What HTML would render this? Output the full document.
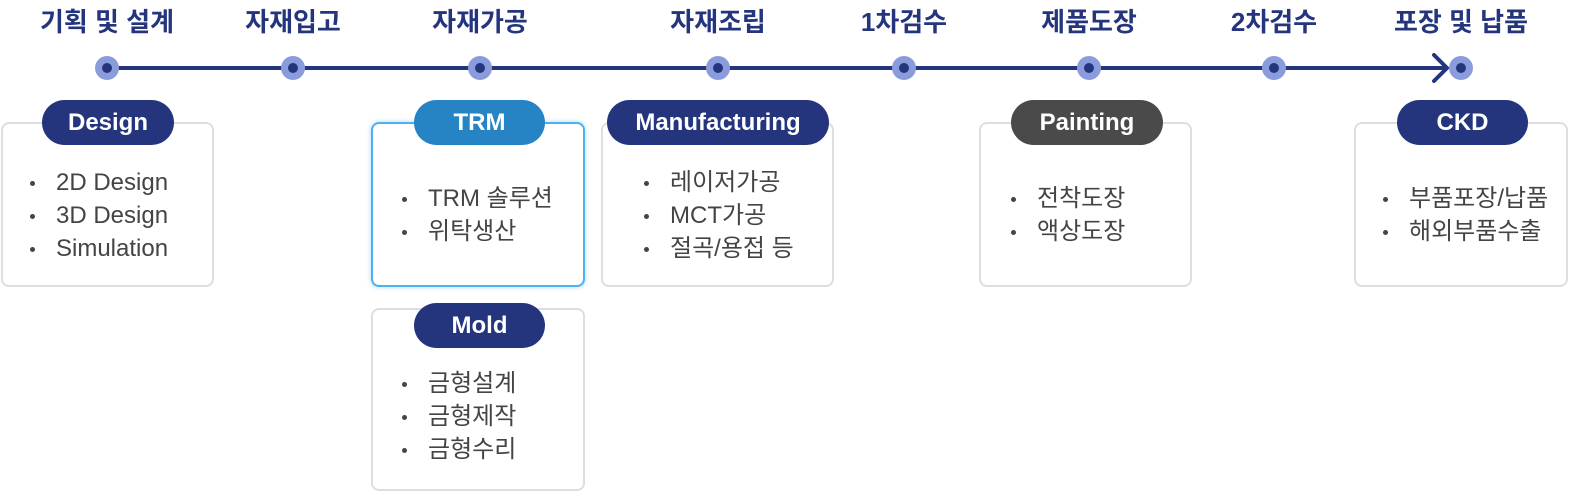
<!DOCTYPE html><html><head><meta charset="utf-8"><style>
*{margin:0;padding:0;box-sizing:border-box}
body{width:1570px;height:492px;background:#fff;position:relative;overflow:hidden;font-family:"Liberation Sans","Noto Sans CJK KR",sans-serif}
.t{position:absolute;top:2px;width:220px;margin-left:-110px;text-align:center;font-weight:bold;font-size:26px;color:#24357e;font-family:"Liberation Sans","Noto Sans CJK KR",sans-serif}
.d{position:absolute;top:56px;width:24px;height:24px;margin-left:-12px;border-radius:50%;background:#8b9cdc}
.d:after{content:"";position:absolute;left:7px;top:7px;width:10px;height:10px;border-radius:50%;background:#24357e}
.b{position:absolute;border:2px solid #dedede;border-radius:8px;background:#fff}
.p{position:absolute;height:45px;border-radius:23px;background:#24357e;color:#fff;font-weight:bold;font-size:24px;text-align:center;line-height:45px}
ul{position:absolute;list-style:none;font-size:24px;color:#444;line-height:33px;font-family:"Liberation Sans","Noto Sans CJK KR",sans-serif}
li{position:relative;padding-left:26px;white-space:nowrap}
li:before{content:"";position:absolute;left:0;top:15px;width:5px;height:5px;border-radius:50%;background:#444}
</style></head><body>
<div style="position:absolute;left:107px;top:66px;width:1340px;height:4px;background:#24357e"></div>
<svg style="position:absolute;left:1424px;top:50px" width="30" height="36"><polyline points="10,5 23,18 10,31" fill="none" stroke="#24357e" stroke-width="4" stroke-linecap="round"/></svg>
<div class="t" style="left:107px">기획 및 설계</div><div class="t" style="left:293px">자재입고</div><div class="t" style="left:480px">자재가공</div><div class="t" style="left:718px">자재조립</div><div class="t" style="left:904px">1차검수</div><div class="t" style="left:1089px">제품도장</div><div class="t" style="left:1274px">2차검수</div><div class="t" style="left:1461px">포장 및 납품</div>
<div class="d" style="left:107px"></div><div class="d" style="left:293px"></div><div class="d" style="left:480px"></div><div class="d" style="left:718px"></div><div class="d" style="left:904px"></div><div class="d" style="left:1089px"></div><div class="d" style="left:1274px"></div><div class="d" style="left:1461px"></div>

<div class="b" style="left:1px;top:122px;width:213px;height:165px"></div>
<div class="p" style="left:42px;top:100px;width:132px">Design</div>
<ul style="left:30px;top:166px"><li>2D Design</li><li>3D Design</li><li>Simulation</li></ul>

<div class="b" style="left:371px;top:122px;width:214px;height:165px;border-color:#4fb0f0;box-shadow:0 0 5px rgba(79,176,240,.5)"></div>
<div class="p" style="left:414px;top:100px;width:131px;background:#2683c4">TRM</div>
<ul style="left:402px;top:182px"><li>TRM 솔루션</li><li>위탁생산</li></ul>

<div class="b" style="left:371px;top:308px;width:214px;height:183px"></div>
<div class="p" style="left:414px;top:303px;width:131px">Mold</div>
<ul style="left:402px;top:367px"><li>금형설계</li><li>금형제작</li><li>금형수리</li></ul>

<div class="b" style="left:601px;top:122px;width:233px;height:165px"></div>
<div class="p" style="left:607px;top:100px;width:222px">Manufacturing</div>
<ul style="left:644px;top:166px"><li>레이저가공</li><li>MCT가공</li><li>절곡/용접 등</li></ul>

<div class="b" style="left:979px;top:122px;width:213px;height:165px"></div>
<div class="p" style="left:1011px;top:100px;width:152px;background:#4a4a4a">Painting</div>
<ul style="left:1011px;top:182px"><li>전착도장</li><li>액상도장</li></ul>

<div class="b" style="left:1354px;top:122px;width:214px;height:165px"></div>
<div class="p" style="left:1397px;top:100px;width:131px">CKD</div>
<ul style="left:1383px;top:182px"><li>부품포장/납품</li><li>해외부품수출</li></ul>
</body></html>
